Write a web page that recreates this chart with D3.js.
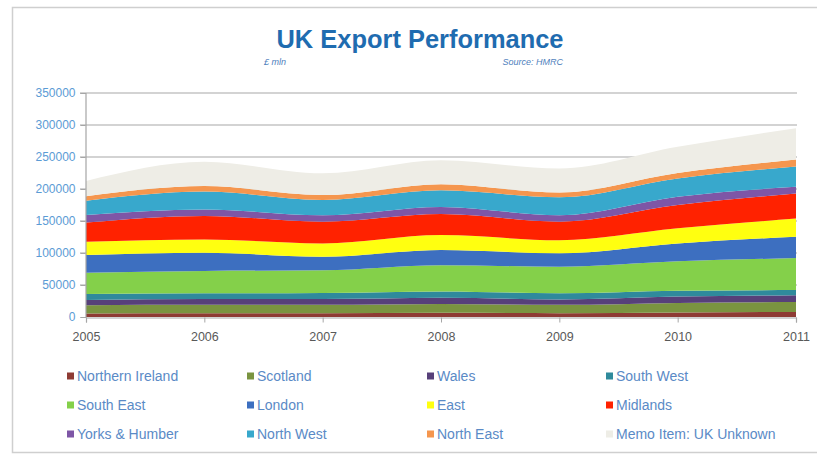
<!DOCTYPE html>
<html>
<head>
<meta charset="utf-8">
<script src="https://cdn.jsdelivr.net/npm/d3@7"></script>
<style>
  html, body { margin: 0; padding: 0; background: #fff; }
  svg { display: block; }
</style>
</head>
<body>
<svg id="chart" width="817" height="456"></svg>
<script>
// UK export performance by region, £ mln (source: HMRC)
const years = [2005, 2006, 2007, 2008, 2009, 2010, 2011];
const yTicks = [0, 50000, 100000, 150000, 200000, 250000, 300000, 350000];

const northernIreland = [5500, 6000, 6000, 6500, 6000, 7000, 8000];
const scotland        = [13000, 13000, 13000, 14000, 13000, 15000, 15500];
const wales           = [8000, 9000, 9000, 9500, 8500, 10000, 10500];
const southWest       = [9500, 9000, 9500, 10000, 9500, 9000, 8000];
const southEast       = [33000, 35000, 35500, 41000, 41500, 46000, 50000];
const london          = [28000, 28500, 21000, 23500, 21000, 28000, 33500];
const east            = [20500, 20500, 21000, 23500, 20500, 23500, 28500];
const midlands        = [30000, 37000, 34000, 33000, 29000, 36500, 39000];
const yorksHumber     = [12000, 10000, 10000, 11000, 10000, 13000, 10500];
const northWest       = [22000, 28000, 24000, 26000, 28000, 28500, 31500];
const northEast       = [7000, 8500, 7500, 9500, 7500, 8500, 11000];
const ukUnknown       = [24000, 38000, 34000, 37500, 37500, 41000, 49000];

const series = [
  { name: "Northern Ireland",      values: northernIreland, color: "#8e3b34" },
  { name: "Scotland",              values: scotland,        color: "#7a9440" },
  { name: "Wales",                 values: wales,           color: "#57407a" },
  { name: "South West",            values: southWest,       color: "#2f8a9c" },
  { name: "South East",            values: southEast,       color: "#84d04a" },
  { name: "London",                values: london,          color: "#3d6fc0" },
  { name: "East",                  values: east,            color: "#ffff10" },
  { name: "Midlands",              values: midlands,        color: "#ff2200" },
  { name: "Yorks & Humber",        values: yorksHumber,     color: "#7e56a6" },
  { name: "North West",            values: northWest,       color: "#38a8cc" },
  { name: "North East",            values: northEast,       color: "#f5964e" },
  { name: "Memo Item: UK Unknown", values: ukUnknown,       color: "#eeede6" }
];

// Table for d3.stack: one row per year
const table = years.map((yr, i) => {
  const row = { year: yr };
  series.forEach(s => { row[s.name] = s.values[i]; });
  return row;
});

const svg = d3.select("#chart");

// Outer frame
svg.append("rect")
  .attr("x", 12.5).attr("y", 7.5)
  .attr("width", 830).attr("height", 445)
  .attr("fill", "#fff")
  .attr("stroke", "#cfcfcf").attr("stroke-width", 1.5);

// Title block (condensed heading)
svg.append("text")
  .attr("x", 420).attr("y", 48)
  .attr("text-anchor", "middle")
  .attr("font-family", "'Liberation Sans', Arial, sans-serif")
  .attr("font-weight", "bold")
  .attr("font-size", 26)
  .attr("textLength", 287)
  .attr("lengthAdjust", "spacingAndGlyphs")
  .attr("fill", "#1f6cb0")
  .text("UK Export Performance");

svg.append("text")
  .attr("x", 264).attr("y", 65)
  .attr("font-family", "'Liberation Sans', Arial, sans-serif")
  .attr("font-style", "italic")
  .attr("font-size", 9)
  .attr("fill", "#4f81bd")
  .text("£ mln");

svg.append("text")
  .attr("x", 563).attr("y", 65)
  .attr("text-anchor", "end")
  .attr("font-family", "'Liberation Sans', Arial, sans-serif")
  .attr("font-style", "italic")
  .attr("font-size", 9)
  .attr("fill", "#4f81bd")
  .text("Source: HMRC");

// Scales
const x = d3.scaleLinear().domain([2005, 2011]).range([86, 796]);
const y = d3.scaleLinear().domain([0, 350000]).range([317, 93]);

// Gridlines
svg.append("g")
  .selectAll("line")
  .data(yTicks.filter(t => t > 0))
  .join("line")
  .attr("x1", 80).attr("x2", 797)
  .attr("y1", d => y(d)).attr("y2", d => y(d))
  .attr("stroke", "#c4c4c4").attr("stroke-width", 1.5);

// Stacked areas
const stack = d3.stack().keys(series.map(s => s.name));
const layers = stack(table);

const area = d3.area()
  .x(d => x(d.data.year))
  .y0(d => y(d[0]))
  .y1(d => y(d[1]))
  .curve(d3.curveMonotoneX);

svg.append("g")
  .selectAll("path")
  .data(layers)
  .join("path")
  .attr("d", area)
  .attr("fill", (d, i) => series[i].color);

// Y axis
const yAxis = d3.axisLeft(y)
  .tickValues(yTicks)
  .tickSize(5)
  .tickFormat(d3.format("d"));

const gy = svg.append("g")
  .attr("transform", "translate(85.5,0)")
  .call(yAxis);
gy.select(".domain").attr("stroke", "#a6a6a6").attr("stroke-width", 1.2);
gy.selectAll(".tick line").attr("stroke", "#a6a6a6");
gy.selectAll(".tick text")
  .attr("x", -10)
  .attr("font-family", "'Liberation Sans', Arial, sans-serif")
  .attr("font-size", 12)
  .attr("fill", "#5b9bd5");

// X axis
const xAxis = d3.axisBottom(x)
  .tickValues(years)
  .tickSize(5)
  .tickFormat(d3.format("d"));

const gx = svg.append("g")
  .attr("transform", "translate(0,317.5)")
  .call(xAxis);
gx.select(".domain").attr("stroke", "#a6a6a6").attr("stroke-width", 1.2);
gx.selectAll(".tick line").attr("stroke", "#a6a6a6");
gx.selectAll(".tick text")
  .attr("y", 15)
  .attr("font-family", "'Liberation Sans', Arial, sans-serif")
  .attr("font-size", 12.5)
  .attr("fill", "#595959");

// Legend: 4 columns x 3 rows
const legendCols = [67, 247, 427, 606];
const legendRows = [376, 405, 434];

const legend = svg.append("g")
  .selectAll("g")
  .data(series)
  .join("g")
  .attr("transform", (d, i) => `translate(${legendCols[i % 4]},${legendRows[Math.floor(i / 4)]})`);

legend.append("rect")
  .attr("x", 0).attr("y", -3.5)
  .attr("width", 7).attr("height", 7)
  .attr("fill", d => d.color);

legend.append("text")
  .attr("x", 10).attr("y", 5)
  .attr("font-family", "'Liberation Sans', Arial, sans-serif")
  .attr("font-size", 14)
  .attr("fill", "#5a8ac6")
  .text(d => d.name);
</script>
</body>
</html>
